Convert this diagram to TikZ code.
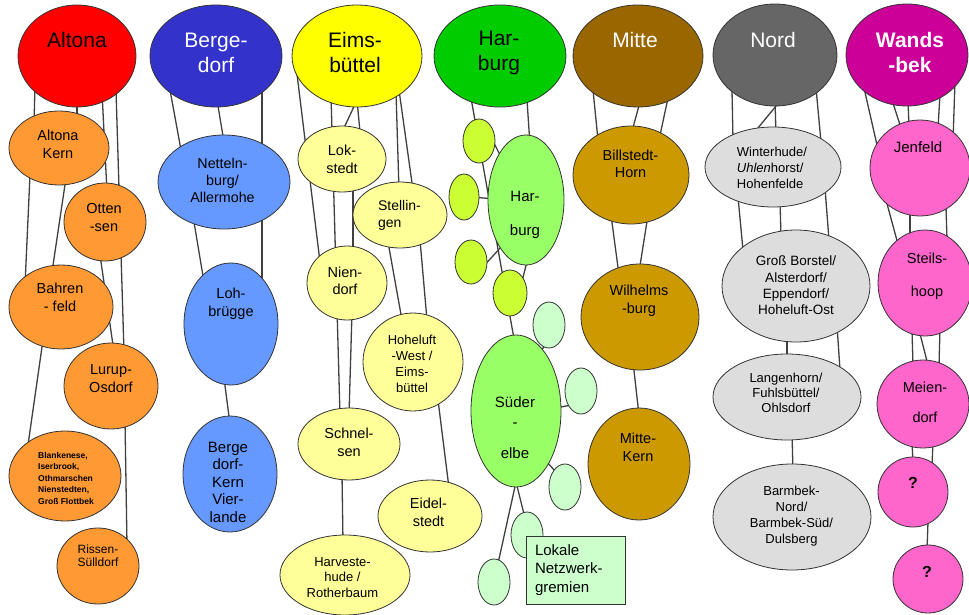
\documentclass[tikz,border=0pt]{standalone}
\usepackage{fontspec}
\setmainfont{Liberation Sans}
\usetikzlibrary{shapes.geometric,calc}
\pgfdeclarelayer{bg}
\pgfsetlayers{bg,main}
\definecolor{cAlt}{HTML}{FF0000}
\definecolor{cAltC}{HTML}{FF9933}
\definecolor{cBer}{HTML}{3333CC}
\definecolor{cBerC}{HTML}{6699FF}
\definecolor{cEim}{HTML}{FFFF00}
\definecolor{cEimC}{HTML}{FFFF99}
\definecolor{cHar}{HTML}{00CC00}
\definecolor{cHarC}{HTML}{99FF66}
\definecolor{cHarS}{HTML}{CCFF33}
\definecolor{cMint}{HTML}{CCFFCC}
\definecolor{cMit}{HTML}{996600}
\definecolor{cMitC}{HTML}{CC9900}
\definecolor{cNor}{HTML}{666666}
\definecolor{cNorC}{HTML}{DDDDDD}
\definecolor{cWan}{HTML}{CC0099}
\definecolor{cWanC}{HTML}{FF66CC}
\definecolor{cLine}{HTML}{404040}
\newcommand\cnx[6]{\draw[con] ($(#1)+(#2,#3)$) -- ($(#4)+(#5,#6)$);}
\tikzset{
  ell/.style={ellipse, draw=black!80, line width=0.8pt, inner sep=0pt},
  con/.style={draw=cLine, line width=1.3pt},
  ttop/.style={font=\fontsize{21}{25}\selectfont, align=center, inner sep=0pt},
  tch/.style={font=\fontsize{14.5}{18}\selectfont, align=center, inner sep=0pt},
  tsm/.style={font=\fontsize{13}{16}\selectfont, align=center, inner sep=0pt},
}
\begin{document}
\begin{tikzpicture}[x=1pt,y=-1pt]
\useasboundingbox (0,0) rectangle (969,615);
% ---------- top row ----------
\node[ell, fill=cAlt, minimum width=118pt, minimum height=102pt] (alt) at (77,56) {};
\node[ell, fill=cBer, minimum width=132pt, minimum height=102pt] (berg) at (216,56) {};
\node[ell, fill=cEim, minimum width=130pt, minimum height=102pt] (eims) at (357,56) {};
\node[ell, fill=cHar, minimum width=132pt, minimum height=102pt] (harb) at (500,56) {};
\node[ell, fill=cMit, minimum width=130pt, minimum height=102pt] (mitte) at (638,56) {};
\node[ell, fill=cNor, minimum width=124pt, minimum height=102pt] (nord) at (775,55) {};
\node[ell, fill=cWan, minimum width=122pt, minimum height=102pt] (wand) at (907,55) {};
\node[ttop] (altT) at (77,40) {Altona};
\node[ttop, text=white] (bergT) at (216,52.5) {Berge-\\dorf};
\node[ttop] (eimsT) at (355,52.5) {Eims-\\büttel};
\node[ttop] (harbT) at (499,52.5) {Har-\\burg};
\node[ttop, text=white] (mitteT) at (635,40) {Mitte};
\node[ttop, text=white] (nordT) at (773,40) {Nord};
\node[ttop, text=white, font=\fontsize{21}{25}\selectfont\bfseries] (wandT) at (910,52.5) {Wands\\-bek};
% ---------- Altona ----------
\node[ell, fill=cAltC, minimum width=100pt, minimum height=74pt] (akern) at (59,148) {};
\node[ell, fill=cAltC, minimum width=82pt, minimum height=78pt] (otten) at (105,222) {};
\node[ell, fill=cAltC, minimum width=104pt, minimum height=84pt] (bahren) at (61,307) {};
\node[ell, fill=cAltC, minimum width=94pt, minimum height=86pt] (lurup) at (111,386) {};
\node[ell, fill=cAltC, minimum width=112pt, minimum height=90pt] (blank) at (65,476) {};
\node[ell, fill=cAltC, minimum width=82pt, minimum height=76pt] (rissen) at (98,566) {};
\node[tch] (akernT) at (58,144) {Altona\\Kern};
\node[tch] (ottenT) at (104,217.5) {Otten\\-sen};
\node[tch] (bahrenT) at (60,297.5) {Bahren\\- feld};
\node[tch] (lurupT) at (111,379) {Lurup-\\Osdorf};
\node[align=left, inner sep=0pt, font=\fontsize{8.5}{11.5}\selectfont\bfseries] (blankT) at (66,478) {Blankenese,\\Iserbrook,\\Othmarschen\\Nienstedten,\\Groß Flottbek};
\node[align=center, inner sep=0pt, font=\fontsize{12}{13.5}\selectfont] (rissenT) at (98,555.5) {Rissen-\\Sülldorf};
% ---------- Bergedorf ----------
\node[ell, fill=cBerC, minimum width=132pt, minimum height=94pt] (nett) at (224,182) {};
\node[ell, fill=cBerC, minimum width=94pt, minimum height=122pt] (loh) at (231,324) {};
\node[ell, fill=cBerC, minimum width=94pt, minimum height=116pt] (bkern) at (230,474) {};
\node[tch, font=\fontsize{14.3}{17}\selectfont] (nettT) at (222.5,180) {Netteln-\\burg/\\Allermohe};
\node[tch] (lohT) at (231,303.5) {Loh-\\brügge};
\node[tch, font=\fontsize{15}{17.5}\selectfont] (bkernT) at (228,482) {Berge\\dorf-\\Kern\\Vier-\\lande};
% ---------- Eimsbuettel ----------
\node[ell, fill=cEimC, minimum width=88pt, minimum height=66pt] (lok) at (342,159) {};
\node[ell, fill=cEimC, minimum width=94pt, minimum height=66pt] (stell) at (400,215) {};
\node[ell, fill=cEimC, minimum width=80pt, minimum height=74pt] (nien) at (347,283) {};
\node[ell, fill=cEimC, minimum width=100pt, minimum height=98pt] (hohe) at (413,362) {};
\node[ell, fill=cEimC, minimum width=102pt, minimum height=72pt] (schnel) at (349,444) {};
\node[ell, fill=cEimC, minimum width=104pt, minimum height=72pt] (eidel) at (430,516) {};
\node[ell, fill=cEimC, minimum width=130pt, minimum height=80pt] (harv) at (345,575) {};
\node[tch] (lokT) at (342,159) {Lok-\\stedt};
\node[tch, align=left, font=\fontsize{14}{17}\selectfont] (stellT) at (399.5,215.5) {Stellin-\\gen};
\node[tch, font=\fontsize{14.5}{17}\selectfont] (nienT) at (345,280.5) {Nien-\\dorf};
\node[tsm] (hoheT) at (412,364) {Hoheluft\\-West /\\Eims-\\büttel};
\node[tch] (schnelT) at (349,442) {Schnel-\\sen};
\node[tch] (eidelT) at (428.5,512) {Eidel-\\stedt};
\node[tsm, font=\fontsize{13}{15.5}\selectfont] (harvT) at (342.5,577.5) {Harveste-\\hude /\\Rotherbaum};
% ---------- Harburg ----------
\node[ell, fill=cHarC, minimum width=76pt, minimum height=130pt] (hsub) at (526,200) {};
\node[ell, fill=cHarS, minimum width=32pt, minimum height=44pt] (g1) at (479,141) {};
\node[ell, fill=cHarS, minimum width=30pt, minimum height=46pt] (g2) at (464,197) {};
\node[ell, fill=cHarS, minimum width=32pt, minimum height=44pt] (g3) at (471,262) {};
\node[ell, fill=cHarS, minimum width=34pt, minimum height=46pt] (g4) at (510,293) {};
\node[ell, fill=cHarC, minimum width=90pt, minimum height=152pt] (sued) at (516,411) {};
\node[ell, fill=cMint, minimum width=32pt, minimum height=46pt] (m1) at (549,325) {};
\node[ell, fill=cMint, minimum width=32pt, minimum height=46pt] (m2) at (581,391) {};
\node[ell, fill=cMint, minimum width=32pt, minimum height=46pt] (m3) at (565,487) {};
\node[ell, fill=cMint, minimum width=32pt, minimum height=46pt] (m4) at (527,535) {};
\node[ell, fill=cMint, minimum width=32pt, minimum height=46pt] (m5) at (494,582) {};
\node[tch, font=\fontsize{15}{34}\selectfont] (hsubT) at (525,215) {Har-\\burg};
\node[tch, font=\fontsize{15}{20}\selectfont] (suedT) at (515,427.5) {Süder\\-\\[11pt]elbe};
\node[draw=black!80, line width=0.8pt, fill=cMint, minimum width=99pt, minimum height=68pt,
      text width=81pt, inner xsep=9pt, inner ysep=0pt, align=left,
      font=\fontsize{15}{18.5}\selectfont] (lokale) at (575.5,570) {Lokale\\Netzwerk-\\gremien};
% ---------- Mitte ----------
\node[ell, fill=cMitC, minimum width=116pt, minimum height=98pt] (bill) at (631,175) {};
\node[ell, fill=cMitC, minimum width=118pt, minimum height=106pt] (wilh) at (640,317) {};
\node[ell, fill=cMitC, minimum width=102pt, minimum height=112pt] (mkern) at (639,464) {};
\node[tch, font=\fontsize{14.5}{17}\selectfont] (billT) at (630.5,163.5) {Billstedt-\\Horn};
\node[tch] (wilhT) at (639,301) {Wilhelms\\-burg};
\node[tch] (mkernT) at (638,447) {Mitte-\\Kern};
% ---------- Nord ----------
\node[ell, fill=cNorC, minimum width=136pt, minimum height=80pt] (wint) at (773,167) {};
\node[ell, fill=cNorC, minimum width=148pt, minimum height=112pt] (gross) at (796,286) {};
\node[ell, fill=cNorC, minimum width=148pt, minimum height=86pt] (lang) at (787,397) {};
\node[ell, fill=cNorC, minimum width=158pt, minimum height=106pt] (barm) at (792,517) {};
\node[tsm, align=left] (wintT) at (772,168) {Winterhude/\\\textit{Uhlen}horst/\\Hohenfelde};
\node[tsm, font=\fontsize{13.5}{16.3}\selectfont] (grossT) at (796,285.5) {Groß Borstel/\\Alsterdorf/\\Eppendorf/\\Hoheluft-Ost};
\node[tsm, font=\fontsize{13}{15}\selectfont] (langT) at (786,393) {Langenhorn/\\Fuhlsbüttel/\\Ohlsdorf};
\node[tsm] (barmT) at (791.5,516) {Barmbek-\\Nord/\\Barmbek-Süd/\\Dulsberg};
% ---------- Wandsbek ----------
\node[ell, fill=cWanC, minimum width=100pt, minimum height=96pt] (jen) at (920,168) {};
\node[ell, fill=cWanC, minimum width=94pt, minimum height=106pt] (steil) at (925,283) {};
\node[ell, fill=cWanC, minimum width=92pt, minimum height=88pt] (meien) at (923,404) {};
\node[ell, fill=cWanC, minimum width=70pt, minimum height=70pt] (q1) at (913,492) {};
\node[ell, fill=cWanC, minimum width=70pt, minimum height=68pt] (q2) at (928,579) {};
\node[tch, font=\fontsize{15}{18}\selectfont] (jenT) at (918,147) {Jenfeld};
\node[tch, font=\fontsize{14.5}{33}\selectfont] (steilT) at (927,276.5) {Steils-\\hoop};
\node[tch, font=\fontsize{14.5}{30}\selectfont] (meienT) at (925,402) {Meien-\\dorf};
\node[tch, font=\fontsize{16}{18}\selectfont\bfseries] (q1T) at (913,483) {?};
\node[tch, font=\fontsize{16}{18}\selectfont\bfseries] (q2T) at (927,572) {?};
% ---------- connectors (behind) ----------
\begin{pgfonlayer}{bg}
\fill[white] (0,0) rectangle (969,615);
% Altona
\cnx{alt}{-42}{29}{akern}{-25}{-23}
\cnx{alt}{0}{44}{akern}{18}{-28}
\cnx{alt}{25}{36}{otten}{2}{-30}
\cnx{alt}{39}{34}{lurup}{13}{-34}
\cnx{akern}{-29}{27}{bahren}{-36}{-22}
\cnx{akern}{7}{30}{bahren}{-9}{-35}
\cnx{otten}{-5}{33}{lurup}{3}{-34}
\cnx{bahren}{-18}{33}{blank}{-38}{-24}
\cnx{lurup}{14}{34}{rissen}{29}{-21}
% Bergedorf
\cnx{berg}{-46}{34}{nett}{-43}{-32}
\cnx{berg}{1}{44}{nett}{0}{-40}
\cnx{berg}{46}{34}{loh}{31}{-34}
\cnx{nett}{-30}{40}{loh}{-27}{-42}
\cnx{loh}{-7}{54}{bkern}{0}{-50}
% Eimsbuettel
\cnx{eims}{-61}{10}{nien}{-27}{-21}
\cnx{eims}{-26}{39}{schnel}{-9}{-29}
\cnx{eims}{0}{44}{lok}{1}{-29}
\cnx{eims}{0}{44}{lok}{18}{-27}
\cnx{lok}{11}{26}{nien}{6}{-28}
\cnx{nien}{5}{29}{schnel}{0}{-29}
\cnx{eims}{42}{34}{stell}{13}{-25}
\cnx{eims}{39}{36}{stell}{-1}{-25}
\cnx{stell}{-12}{27}{hohe}{-11}{-42}
\cnx{stell}{20}{25}{hohe}{14}{-42}
\cnx{hohe}{25}{38}{eidel}{19}{-28}
\cnx{schnel}{-7}{30}{harv}{-2}{-32}
% Harburg
\cnx{harb}{-29}{42}{sued}{0}{-61}
\cnx{harb}{27}{44}{hsub}{4}{-55}
\cnx{g1}{11}{-6}{hsub}{-26}{-45}
\cnx{g2}{8}{0}{hsub}{-31}{-1}
\cnx{g3}{11}{6}{hsub}{-24}{46}
\cnx{hsub}{2}{58}{g4}{11}{-8}
\cnx{sued}{24}{-59}{m1}{4}{10}
\cnx{sued}{39}{-3}{m2}{-9}{14}
\cnx{sued}{29}{49}{m3}{-9}{-15}
\cnx{sued}{0}{71}{m4}{-2}{-17}
\cnx{sued}{0}{71}{m5}{3}{-14}
% Mitte
\cnx{mitte}{-45}{34}{bill}{-33}{-35}
\cnx{mitte}{2}{46}{bill}{0}{-40}
\cnx{mitte}{30}{42}{bill}{28}{-35}
\cnx{bill}{-20}{40}{wilh}{-21}{-42}
\cnx{bill}{17}{40}{wilh}{-1}{-45}
\cnx{wilh}{-7}{45}{mkern}{0}{-49}
% Nord
\cnx{nord}{-43}{35}{wint}{-40}{-27}
\cnx{nord}{6}{45}{wint}{-20}{-33}
\cnx{nord}{0}{45}{wint}{3}{-32}
\cnx{nord}{41}{33}{wint}{48}{-25}
\cnx{wint}{-35}{30}{gross}{-53}{-36}
\cnx{wint}{7}{33}{gross}{-15}{-48}
\cnx{wint}{52}{21}{gross}{33}{-46}
\cnx{gross}{-9}{49}{lang}{0}{-37}
\cnx{gross}{41}{39}{lang}{53}{-27}
\cnx{lang}{5}{35}{barm}{1}{-45}
% Wandsbek
\cnx{wand}{-43}{33}{jen}{-43}{-23}
\cnx{wand}{-15}{45}{jen}{-19}{-40}
\cnx{wand}{1}{45}{jen}{-11}{-40}
\cnx{wand}{33}{39}{jen}{18}{-40}
\cnx{wand}{48}{27}{jen}{33}{-28}
\cnx{jen}{-34}{32}{steil}{-26}{-35}
\cnx{jen}{-10}{42}{steil}{-15}{-43}
\cnx{jen}{26}{39}{steil}{22}{-43}
\cnx{steil}{-13}{47}{meien}{-10}{-39}
\cnx{steil}{-6}{47}{meien}{5}{-39}
\cnx{steil}{15}{45}{meien}{16}{-38}
\cnx{meien}{-11}{38}{q1}{0}{-30}
\cnx{meien}{10}{38}{q1}{19}{-27}
\cnx{q1}{15}{30}{q2}{-1}{-29}
\end{pgfonlayer}
\end{tikzpicture}
\end{document}
